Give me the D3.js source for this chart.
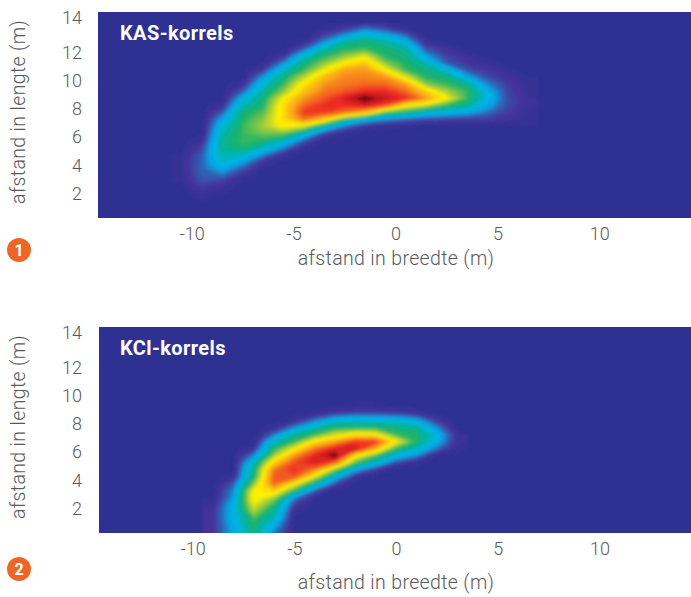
<!DOCTYPE html>
<html>
<head>
<meta charset="utf-8">
<script src="https://cdn.jsdelivr.net/npm/d3@7"></script>
<style>
  html, body { margin: 0; padding: 0; background: #fff; }
  svg { display: block; }
  text { font-family: Roboto, "Open Sans", sans-serif; }
</style>
</head>
<body>
<svg id="chart" width="691" height="597"></svg>
<script>
// values, one list per column of the grid, bottom row first
var kasColumns = [-10.5, -9.5, -8.5, -7.5, -6.5, -5.5, -4.5, -3.5, -2.5, -1.5, -0.5, 0.5, 1.5, 2.5, 3.5, 4.5, 5.5, 6.5];
var kasRows = [1.25, 1.75, 2.25, 2.75, 3.25, 3.75, 4.25, 4.75, 5.25, 5.75, 6.25, 6.75, 7.25, 7.75, 8.25, 8.75, 9.25, 9.75, 10.25, 10.75, 11.25, 11.75, 12.25, 12.75, 13.25, 13.75];
var kasValues = [
  [0,0,0,1,2,2,2,1,0,0,0,0,0,0,0,0,0,0,0,0,0,0,0,0,0,0],
  [0,2,5,8,10,11,11,10,7,3,1,0,0,0,0,0,0,0,0,0,0,0,0,0,0,0],
  [0,0,2,5,11,18,24,28,31,31,28,24,18,10,3,0,0,0,0,0,0,0,0,0,0,0],
  [0,0,0,0,3,9,17,26,36,38,38,38,36,34,28,20,10,3,0,0,0,0,0,0,0,0],
  [0,0,0,0,0,1,4,14,26,36,42,46,44,40,36,34,30,24,16,6,1,0,0,0,0,0],
  [0,0,0,0,0,0,0,3,14,26,42,56,60,60,60,55,44,38,34,26,14,4,0,0,0,0],
  [0,0,0,0,0,0,0,0,2,10,26,50,76,84,78,72,64,58,48,38,34,24,10,2,0,0],
  [0,0,0,0,0,0,0,0,0,1,8,28,62,84,86,80,76,72,66,54,44,36,28,14,6,1],
  [0,0,0,0,0,0,0,0,0,0,2,12,36,76,86,90,80,76,74,70,56,44,36,30,14,4],
  [0,0,0,0,0,0,0,0,0,0,0,4,20,66,90,100,86,78,74,72,64,52,38,34,24,10],
  [0,0,0,0,0,0,0,0,0,0,0,2,14,40,82,92,86,78,72,56,44,36,35,30,18,6],
  [0,0,0,0,0,0,0,0,0,0,0,1,10,34,58,86,78,70,52,38,36,34,30,20,10,1],
  [0,0,0,0,0,0,0,0,0,0,0,0,8,24,50,72,62,44,36,34,28,16,9,3,0,0],
  [0,0,0,0,0,0,0,0,0,0,0,0,7,20,38,56,46,38,34,24,10,7,4,0,0,0],
  [0,0,0,0,0,0,0,0,0,0,0,0,6,18,32,38,38,32,18,9,5,3,0,0,0,0],
  [0,0,0,0,0,0,0,0,0,0,0,0,6,12,18,22,20,14,8,5,2,0,0,0,0,0],
  [0,0,0,0,0,0,0,0,0,0,0,0,4,6,8,8,7,6,4,2,0,0,0,0,0,0],
  [0,0,0,0,0,0,0,0,0,0,0,1,2,2,3,3,2,2,1,0,0,0,0,0,0,0]
];

var kclColumns = [-9, -8, -7, -6, -5, -4, -3, -2, -1, 0, 1, 2, 3];
var kclRows = [-0.25, 0.25, 0.75, 1.25, 1.75, 2.25, 2.75, 3.25, 3.75, 4.25, 4.75, 5.25, 5.75, 6.25, 6.75, 7.25, 7.75, 8.25, 8.75, 9.25];
var kclValues = [
  [5,5,5,5,5,3,1,0,0,0,0,0,0,0,0,0,0,0,0,0],
  [18,18,18,20,20,20,16,14,10,3,0,0,0,0,0,0,0,0,0,0],
  [34,34,36,38,46,52,58,56,44,34,32,26,14,4,0,0,0,0,0,0],
  [12,12,18,26,30,36,46,62,78,80,76,62,46,36,26,12,2,0,0,0],
  [0,0,0,0,2,6,14,36,56,80,86,82,72,54,38,30,14,3,0,0],
  [0,0,0,0,0,0,1,10,30,52,74,90,88,76,58,38,28,12,2,0],
  [0,0,0,0,0,0,0,0,8,22,44,78,100,88,70,50,36,22,6,0],
  [0,0,0,0,0,0,0,0,0,3,18,40,58,92,84,58,36,24,8,1],
  [0,0,0,0,0,0,0,0,0,0,6,24,40,68,84,56,36,24,8,1],
  [0,0,0,0,0,0,0,0,0,0,0,8,22,38,56,38,34,22,7,0],
  [0,0,0,0,0,0,0,0,0,0,0,2,14,26,36,36,30,18,4,0],
  [0,0,0,0,0,0,0,0,0,0,0,0,0,12,20,22,14,6,1,0],
  [0,0,0,0,0,0,0,0,0,0,0,0,0,2,3,3,0,0,0,0]
];

var xTicks = [-10, -5, 0, 5, 10];
var yTicks = [2, 4, 6, 8, 10, 12, 14];
var colorStops = [0, 4, 10, 15, 20, 28, 35, 45, 55, 70, 85, 94, 100];
var colorRange = ["#2e3192", "#45309a", "#2f62b4", "#0b9fe0", "#00b5e8", "#00b4ac", "#17b26c", "#a3cd39", "#fff200", "#f9a01b", "#ee2a24", "#b5121b", "#1a0505"];

var svg = d3.select("#chart");
var heatColor = d3.scaleLinear().domain(colorStops).range(colorRange);

var defs = svg.append("defs");
defs.append("filter").attr("id", "soften")
    .attr("x", "-5%").attr("y", "-5%").attr("width", "110%").attr("height", "110%")
    .append("feGaussianBlur").attr("stdDeviation", 1.6);

function drawPanel(opt) {
    var x = d3.scaleLinear().domain([-14.6, 14.5]).range([opt.left, 691]);
    var y = d3.scaleLinear().domain([0, 14]).range([opt.zero, opt.zero - 198]);

    var clipId = "clip" + opt.badge;
    defs.append("clipPath").attr("id", clipId)
        .append("rect")
        .attr("x", opt.left).attr("y", opt.top)
        .attr("width", 691 - opt.left).attr("height", opt.bottom - opt.top);

    var plot = svg.append("g").attr("clip-path", "url(#" + clipId + ")");
    plot.append("rect")
        .attr("x", opt.left).attr("y", opt.top)
        .attr("width", 691 - opt.left).attr("height", opt.bottom - opt.top)
        .attr("fill", colorRange[0]);

    // flat grid for d3.contours, rows along y
    var nx = opt.columns.length, ny = opt.rows.length;
    var flat = [];
    for (var j = 0; j < ny; j++) {
        for (var i = 0; i < nx; i++) flat.push(opt.values[i][j]);
    }

    var dx = opt.columns[1] - opt.columns[0];
    var dy = opt.rows[1] - opt.rows[0];
    var path = d3.geoPath(d3.geoTransform({
        point: function (px, py) {
            this.stream.point(
                x(opt.columns[0] + (px - 0.5) * dx),
                y(opt.rows[0] + (py - 0.5) * dy));
        }
    }));

    var contours = d3.contours().size([nx, ny]).thresholds(d3.range(1, 101, 1.5))(flat);

    plot.append("g").attr("filter", "url(#soften)")
        .selectAll("path")
        .data(contours)
        .enter().append("path")
        .attr("d", path)
        .attr("fill", function (d) { return heatColor(d.value); });

    plot.append("text")
        .attr("x", 120).attr("y", opt.top + 28)
        .attr("fill", "#fff")
        .attr("font-size", 20).attr("font-weight", 700)
        .attr("letter-spacing", 0.4)
        .text(opt.title);

    var xAxis = svg.append("g")
        .attr("transform", "translate(0," + opt.xTickY + ")")
        .call(d3.axisBottom(x).tickValues(xTicks).tickSize(0).tickPadding(0).tickFormat(String));
    xAxis.select(".domain").remove();

    var yAxis = svg.append("g")
        .attr("transform", "translate(82,0)")
        .call(d3.axisLeft(y).tickValues(yTicks).tickSize(0).tickPadding(0).tickFormat(String));
    yAxis.select(".domain").remove();
    // the 14 sits a bit higher than the regular spacing in the original
    yAxis.selectAll(".tick").filter(function (d) { return d === 14; })
        .select("text").attr("dy", "-0.05em");

    svg.selectAll("g.tick text")
        .attr("font-family", "Roboto, sans-serif")
        .attr("font-size", 18)
        .attr("font-weight", 300)
        .attr("fill", "#58595b");

    svg.append("text")
        .attr("x", 396).attr("y", opt.xLabelY)
        .attr("text-anchor", "middle")
        .attr("font-size", 19.5).attr("font-weight", 300)
        .attr("letter-spacing", 0.35)
        .attr("fill", "#58595b")
        .text("afstand in breedte (m)");

    svg.append("text")
        .attr("transform", "translate(25," + (opt.zero - 110) + ") rotate(-90)")
        .attr("text-anchor", "middle")
        .attr("font-size", 19.5).attr("font-weight", 300)
        .attr("letter-spacing", 0.35)
        .attr("fill", "#58595b")
        .text("afstand in lengte (m)");

    svg.append("circle")
        .attr("cx", 19).attr("cy", opt.badgeY).attr("r", 12)
        .attr("fill", "#ec6726");
    svg.append("text")
        .attr("x", 19).attr("y", opt.badgeY + 6)
        .attr("text-anchor", "middle")
        .attr("font-size", 16).attr("font-weight", 700)
        .attr("fill", "#fff")
        .text(opt.badge);
}

drawPanel({
    title: "KAS-korrels", badge: "1",
    columns: kasColumns, rows: kasRows, values: kasValues,
    left: 98, top: 12, bottom: 218, zero: 222,
    xTickY: 227, xLabelY: 265, badgeY: 250
});

drawPanel({
    title: "KCl-korrels", badge: "2",
    columns: kclColumns, rows: kclRows, values: kclValues,
    left: 99, top: 327, bottom: 533, zero: 537,
    xTickY: 542, xLabelY: 589, badgeY: 569
});
</script>
</body>
</html>
